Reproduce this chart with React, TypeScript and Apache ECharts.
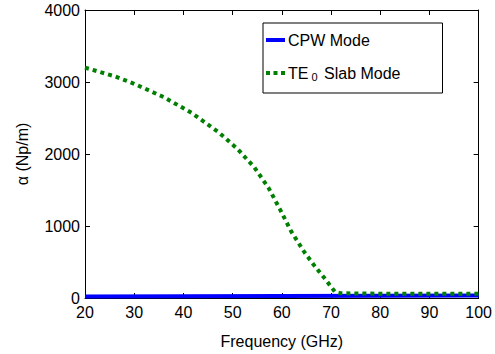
import { useEffect, useRef } from 'react';
import * as echarts from 'echarts';

const cpwFreq = [20, 40, 60, 80, 100];
const cpwAlpha = [22, 25, 28, 31, 34];
const slabFreq = [20, 22, 26, 30, 36, 41.7, 47.2, 51, 54.4, 57.3, 59.6, 61.9, 64.6, 66.6, 68.8, 70.8, 72, 80, 90, 100];
const slabAlpha = [3200, 3160, 3080, 2975, 2790, 2570, 2300, 2070, 1815, 1530, 1235, 925, 635, 450, 265, 85, 65, 60, 60, 60];
const seriesNames = ['CPW Mode', 'TE0 Slab Mode'];
const xTitle = 'Frequency (GHz)';
const yTitle = 'α (Np/m)';

const FONT = "'Liberation Sans', Arial, Helvetica, sans-serif";

const SOLID_ICON = 'path://M0,0h19v4h-19z';
const DOT_ICON = 'path://M0,0h4v4h-4zM7.5,0h4v4h-4zM15,0h4v4h-4z';

export default function App() {
  const ref = useRef<HTMLDivElement>(null);
  useEffect(() => {
    if (!ref.current) return;
    const chart = echarts.init(ref.current, null, { renderer: 'svg' });
    const axisCommon = {
      type: 'value' as const,
      axisLine: { show: true, onZero: false, lineStyle: { color: '#000', width: 1 } },
      axisTick: { show: true, inside: true, length: 5, lineStyle: { color: '#000' } },
      splitLine: { show: false },
    };
    chart.setOption({
      animation: false,
      backgroundColor: '#fff',
      textStyle: { fontFamily: FONT },
      grid: { left: 85, top: 10, right: 11, bottom: 55, containLabel: false },
      xAxis: [
        {
          ...axisCommon,
          min: 20, max: 100, interval: 10,
          position: 'bottom',
          axisLabel: { color: '#000', fontSize: 16, margin: 6, fontFamily: FONT, formatter: (v: number) => String(v) },
          name: xTitle, nameLocation: 'middle', nameGap: 35,
          nameTextStyle: { color: '#000', fontSize: 16, fontFamily: FONT },
        },
        {
          ...axisCommon,
          min: 20, max: 100, interval: 10,
          position: 'top',
          axisLabel: { show: false },
        },
      ],
      yAxis: [
        {
          ...axisCommon,
          min: 0, max: 4000, interval: 1000,
          position: 'left',
          axisLabel: { color: '#000', fontSize: 16, margin: 5, fontFamily: FONT, formatter: (v: number) => String(v) },
          name: yTitle, nameLocation: 'middle', nameGap: 55,
          nameTextStyle: { color: '#000', fontSize: 16, fontFamily: FONT },
        },
        {
          ...axisCommon,
          min: 0, max: 4000, interval: 1000,
          position: 'right',
          axisLabel: { show: false },
        },
      ],
      legend: {
        orient: 'vertical',
        left: 263,
        top: 23,
        data: [
          { name: seriesNames[0], icon: SOLID_ICON },
          { name: seriesNames[1], icon: DOT_ICON },
        ],
        backgroundColor: '#fff',
        borderColor: '#000',
        borderWidth: 1,
        borderRadius: 0,
        padding: [9, 42, 11, 3],
        itemWidth: 19,
        itemHeight: 14,
        itemGap: 17,
        symbolKeepAspect: true,
        selectedMode: false,
        formatter: (name: string) => (name === 'TE0 Slab Mode' ? 'TE{sub|0} Slab Mode' : name),
        textStyle: {
          color: '#000',
          fontSize: 16,
          fontFamily: FONT,
          padding: [0, 0, 0, -2],
          rich: {
            sub: { fontSize: 11, fontFamily: FONT, color: '#000', padding: [7, 2, 0, 3] },
          },
        },
      },
      series: [
        {
          name: seriesNames[0],
          type: 'line',
          xAxisIndex: 0,
          yAxisIndex: 0,
          symbol: 'none',
          data: cpwFreq.map((f, i) => [f, cpwAlpha[i]]),
          lineStyle: { color: '#0000ff', width: 4 },
          itemStyle: { color: '#0000ff' },
          z: 2,
        },
        {
          name: seriesNames[1],
          type: 'line',
          xAxisIndex: 0,
          yAxisIndex: 0,
          symbol: 'none',
          data: slabFreq.map((f, i) => [f, slabAlpha[i]]),
          lineStyle: { color: '#008000', width: 4, type: [4, 4], cap: 'butt' },
          itemStyle: { color: '#008000' },
          z: 3,
        },
      ],
    });
    return () => chart.dispose();
  }, []);
  return (
    <div
      ref={ref}
      style={{ position: 'absolute', left: 0, top: 0, width: 495, height: 354, background: '#fff' }}
    />
  );
}
